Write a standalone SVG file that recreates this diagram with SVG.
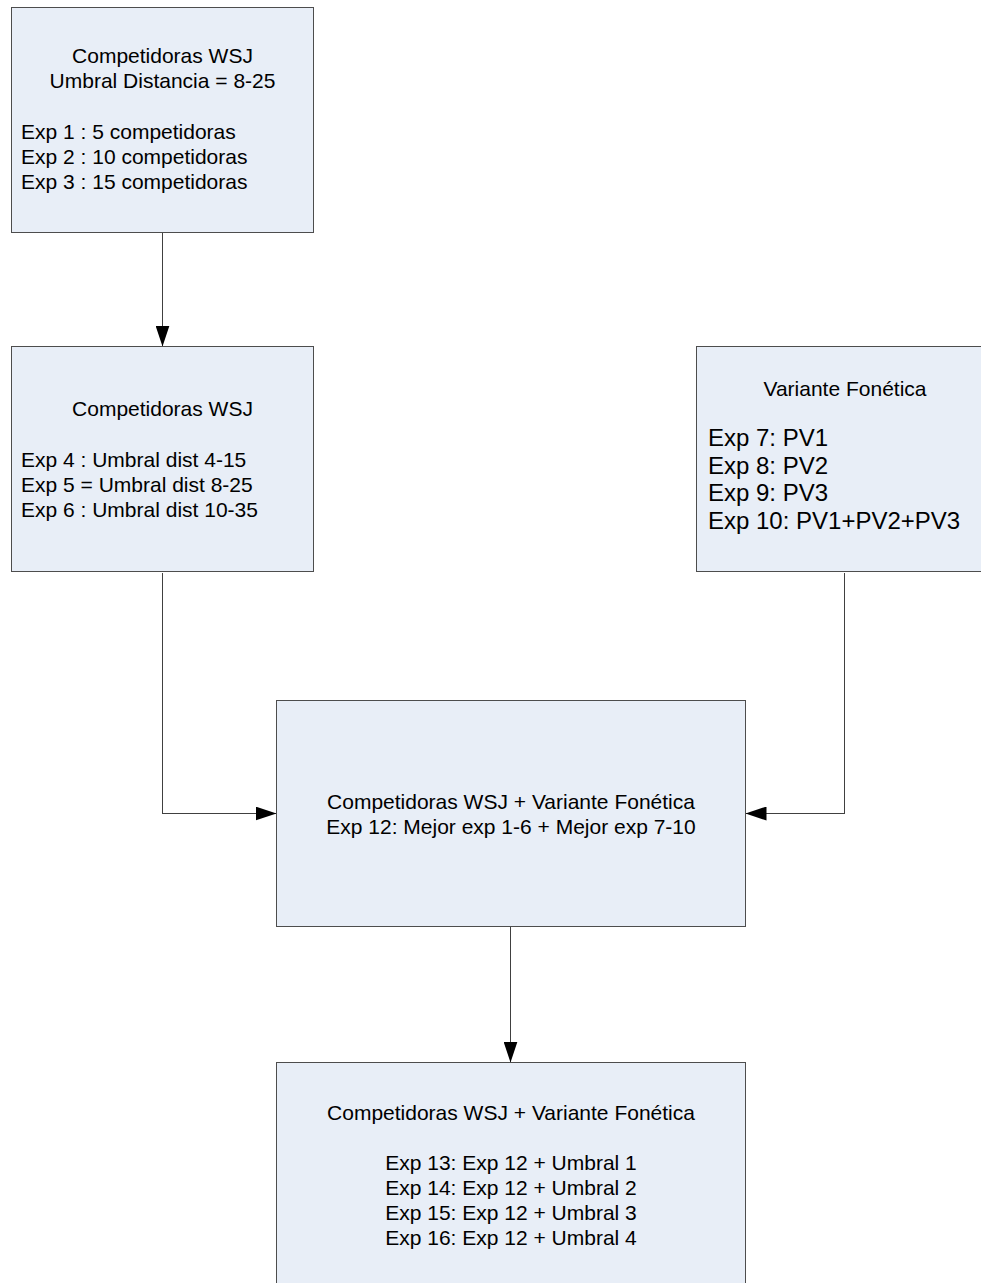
<svg xmlns="http://www.w3.org/2000/svg" width="981" height="1283" viewBox="0 0 981 1283">
  <style>
    .box { fill: #E8EEF7; stroke: #4D4D4D; stroke-width: 1; shape-rendering: crispEdges; }
    .t { font-family: "Liberation Sans", Arial, sans-serif; font-size: 21px; fill: #000; }
    .big { font-size: 24px; }
    .mid { text-anchor: middle; }
    .conn { fill: none; stroke: #404040; stroke-width: 1; shape-rendering: crispEdges; }
  </style>
  <defs>
    <marker id="arrow" markerUnits="userSpaceOnUse" markerWidth="22" markerHeight="14" refX="21" refY="7" orient="auto">
      <path d="M0,0 L21,7 L0,14 Z" fill="#000"/>
    </marker>
  </defs>

  <rect width="981" height="1283" fill="#FFFFFF"/>

  <!-- connectors -->
  <g id="connectors">
    <path class="conn" d="M162.5,232.5 V346.5" marker-end="url(#arrow)"/>
    <path class="conn" d="M162.5,572.5 V813.5 H276.5" marker-end="url(#arrow)"/>
    <path class="conn" d="M844.5,572.5 V813.5 H745.5" marker-end="url(#arrow)"/>
    <path class="conn" d="M510.5,926.5 V1062.5" marker-end="url(#arrow)"/>
  </g>

  <!-- competitor experiments 1-3 -->
  <g id="node-wsj-competidoras">
    <rect class="box" x="11.5" y="7.5" width="302" height="225"/>
    <text class="t mid" x="162.5" y="63">Competidoras WSJ</text>
    <text class="t mid" x="162.5" y="88">Umbral Distancia = 8-25</text>
    <text class="t" x="21" y="138.5">Exp 1 : 5 competidoras</text>
    <text class="t" x="21" y="163.5">Exp 2 : 10 competidoras</text>
    <text class="t" x="21" y="188.5">Exp 3 : 15 competidoras</text>
  </g>

  <!-- distance threshold experiments 4-6 -->
  <g id="node-wsj-umbral">
    <rect class="box" x="11.5" y="346.5" width="302" height="225"/>
    <text class="t mid" x="162.5" y="416">Competidoras WSJ</text>
    <text class="t" x="21" y="466.5">Exp 4 : Umbral dist 4-15</text>
    <text class="t" x="21" y="491.5">Exp 5 = Umbral dist 8-25</text>
    <text class="t" x="21" y="516.5">Exp 6 : Umbral dist 10-35</text>
  </g>

  <!-- phonetic variant experiments 7-10 -->
  <g id="node-variante">
    <rect class="box" x="696.5" y="346.5" width="302" height="225"/>
    <text class="t mid" x="845" y="396">Variante Fonética</text>
    <text class="t big" x="708" y="446">Exp 7: PV1</text>
    <text class="t big" x="708" y="473.5">Exp 8: PV2</text>
    <text class="t big" x="708" y="501">Exp 9: PV3</text>
    <text class="t big" x="708" y="528.5">Exp 10: PV1+PV2+PV3</text>
  </g>

  <!-- combination experiment 12 -->
  <g id="node-combinado">
    <rect class="box" x="276.5" y="700.5" width="469" height="226"/>
    <text class="t mid" x="511" y="809">Competidoras WSJ + Variante Fonética</text>
    <text class="t mid" x="511" y="834">Exp 12: Mejor exp 1-6 + Mejor exp 7-10</text>
  </g>

  <!-- threshold experiments 13-16 -->
  <g id="node-umbrales">
    <rect class="box" x="276.5" y="1062.5" width="469" height="226"/>
    <text class="t mid" x="511" y="1120">Competidoras WSJ + Variante Fonética</text>
    <text class="t mid" x="511" y="1170">Exp 13: Exp 12 + Umbral 1</text>
    <text class="t mid" x="511" y="1195">Exp 14: Exp 12 + Umbral 2</text>
    <text class="t mid" x="511" y="1220">Exp 15: Exp 12 + Umbral 3</text>
    <text class="t mid" x="511" y="1245">Exp 16: Exp 12 + Umbral 4</text>
  </g>
</svg>
